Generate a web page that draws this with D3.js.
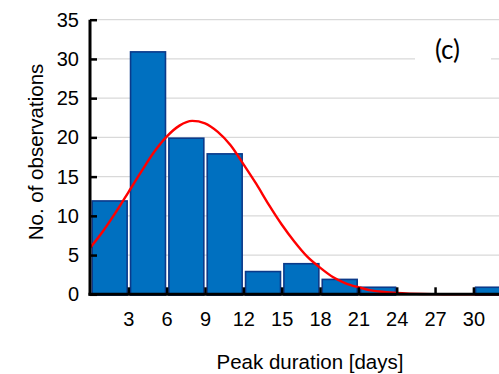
<!DOCTYPE html>
<html>
<head>
<meta charset="utf-8">
<script src="https://cdn.jsdelivr.net/npm/d3@7"></script>
<style>
  html, body { margin: 0; padding: 0; background: #fff; }
  svg { display: block; }
  text { font-family: "Liberation Sans", Arial, sans-serif; fill: #000; }
</style>
</head>
<body>
<svg id="chart" width="499" height="374"></svg>
<script>
// Histogram of peak durations (3-day bins) with a fitted normal curve
const binStarts = [0, 3, 6, 9, 12, 15, 18, 21, 24, 27, 30];
const binCounts = [12, 31, 20, 18, 3, 4, 2, 1, 0, 0, 1];
const binWidth = 3;

// Fitted curve, sampled once per day
const curveDays = [0,1,2,3,4,5,6,7,8,9,10,11,12,13,14,15,16,17,18,19,20,21,22,23,24,25,26,27,28,29,30,31,32,33];
const curveValues = [5.9, 8.0, 10.4, 13.0, 15.6, 18.1, 20.1, 21.5, 22.1, 21.8, 20.7, 19.0, 16.6, 14.1, 11.4, 8.9, 6.7, 4.8, 3.4, 2.2, 1.4, 0.9, 0.5, 0.3, 0.17, 0.09, 0.04, 0.02, 0.01, 0, 0, 0, 0, 0];

const xTickValues = [3, 6, 9, 12, 15, 18, 21, 24, 27, 30];
const yTickValues = [0, 5, 10, 15, 20, 25, 30, 35];

const xTitle = "Peak duration [days]";
const yTitle = "No. of observations";
const panelLabel = "(c)";

const svg = d3.select("#chart");

const x = d3.scaleLinear().domain([0, 33]).range([90, 90 + 33 * 12.78]);
const y = d3.scaleLinear().domain([0, 35]).range([294.3, 19.7]);

// Horizontal gridlines
svg.append("g")
  .selectAll("line")
  .data(yTickValues.filter(v => v > 0))
  .join("line")
  .attr("x1", x(0)).attr("x2", 499)
  .attr("y1", d => y(d)).attr("y2", d => y(d))
  .attr("stroke", "#d9d9d9")
  .attr("stroke-width", 1.3);

// Panel label with a white backing box
const lab = svg.append("g");
lab.append("rect")
  .attr("x", 415).attr("y", 34).attr("width", 76).attr("height", 38)
  .attr("fill", "#fff");
lab.append("text")
  .attr("x", 447.5).attr("y", 59)
  .attr("text-anchor", "middle")
  .style("font-family", "Lato, 'Open Sans', sans-serif")
  .style("font-size", "26px")
  .text(panelLabel);

// Bars
svg.append("g")
  .selectAll("rect")
  .data(binStarts.map((s, i) => ({ s, c: binCounts[i] })).filter(d => d.c > 0))
  .join("rect")
  .attr("x", d => x(d.s) + 2.2)
  .attr("width", d => x(d.s + binWidth) - x(d.s) - 3.4)
  .attr("y", d => y(d.c) + 0.8)
  .attr("height", d => y(0) - y(d.c))
  .attr("fill", "#0070c0")
  .attr("stroke", "#0b3a8a")
  .attr("stroke-width", 1.6);

// Fitted curve
const line = d3.line()
  .x(d => x(d[0]))
  .y(d => y(d[1]))
  .curve(d3.curveMonotoneX);
svg.append("path")
  .datum(curveDays.map((d, i) => [d, curveValues[i]]))
  .attr("d", line)
  .attr("fill", "none")
  .attr("stroke", "#ff0000")
  .attr("stroke-width", 2.4);

// X axis: ticks pointing inward, labels below
const xAxis = svg.append("g").attr("transform", `translate(0,${y(0)})`);
xAxis.call(d3.axisBottom(x).tickValues(xTickValues).tickSize(0).tickPadding(0).tickFormat(d3.format("d")));
xAxis.select(".domain").remove();
xAxis.selectAll(".tick text")
  .attr("y", 31.5)
  .attr("dy", null)
  .style("font-size", "20px")
  .style("font-family", "'Liberation Sans', Arial, sans-serif");
xAxis.selectAll(".tick").append("line")
  .attr("y1", 0).attr("y2", -7)
  .attr("stroke", "#000").attr("stroke-width", 2.5);
xAxis.append("line")
  .attr("x1", x(0) - 1.5).attr("x2", 499)
  .attr("stroke", "#000").attr("stroke-width", 3);

// Y axis: ticks pointing inward, labels at left
const yAxis = svg.append("g").attr("transform", `translate(${x(0)},0)`);
yAxis.call(d3.axisLeft(y).tickValues(yTickValues).tickSize(0).tickPadding(11).tickFormat(d3.format("d")));
yAxis.select(".domain").remove();
yAxis.selectAll(".tick text")
  .style("font-size", "20px")
  .style("font-family", "'Liberation Sans', Arial, sans-serif");
yAxis.selectAll(".tick").append("line")
  .attr("x1", 0).attr("x2", 7)
  .attr("stroke", "#000").attr("stroke-width", 2.5);
yAxis.append("line")
  .attr("y1", y(35)).attr("y2", y(0) + 1.5)
  .attr("stroke", "#000").attr("stroke-width", 3);

// Axis titles
svg.append("text")
  .attr("x", 310).attr("y", 369)
  .attr("text-anchor", "middle")
  .style("font-size", "20.5px")
  .text(xTitle);
svg.append("text")
  .attr("transform", "translate(43,152) rotate(-90)")
  .attr("text-anchor", "middle")
  .style("font-size", "20.5px")
  .text(yTitle);
</script>
</body>
</html>
